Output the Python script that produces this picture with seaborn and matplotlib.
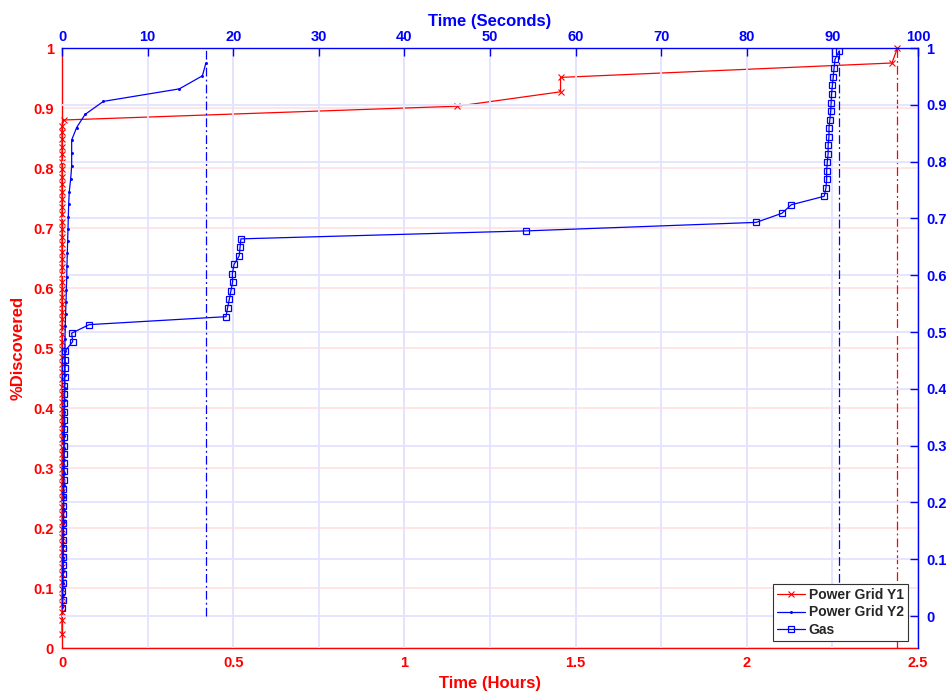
import matplotlib
matplotlib.use("Agg")
import numpy as np
import matplotlib.pyplot as plt
from matplotlib.ticker import FuncFormatter
import seaborn as sns

# Power Grid Y1: hours vs fraction discovered (bottom / left axes)
y1_hours = [0.0, 0.0, 0.0, 0.0, 0.0, 0.0, 0.0, 0.0, 0.0, 0.0,
            0.0, 0.0, 0.0, 0.0, 0.0, 0.0, 0.0, 0.0, 0.0, 0.0,
            0.0, 0.0, 0.0, 0.0, 0.0, 0.0, 0.0, 0.0, 0.0, 0.0,
            0.0, 0.0, 0.0, 0.0, 0.0, 0.0, 0.0, 0.0, 0.0, 0.0,
            0.0, 0.0, 0.0, 0.0, 0.0, 0.0, 0.0, 0.0, 0.0, 0.0,
            0.0, 0.0, 0.0, 0.0, 0.0, 0.0, 0.0, 0.0, 0.0, 0.0,
            0.0, 0.0, 0.0, 0.0, 0.0, 0.0, 0.0, 0.0,
            0.005, 1.154, 1.456, 1.456, 2.424, 2.44]
y1_frac = [0.023, 0.047, 0.060, 0.073, 0.085, 0.098, 0.110, 0.123, 0.135, 0.148,
           0.160, 0.173, 0.185, 0.198, 0.210, 0.223, 0.235, 0.248, 0.260, 0.273,
           0.285, 0.298, 0.310, 0.323, 0.335, 0.348, 0.360, 0.373, 0.385, 0.398,
           0.410, 0.423, 0.435, 0.448, 0.460, 0.473, 0.485, 0.498, 0.510, 0.523,
           0.535, 0.548, 0.560, 0.573, 0.585, 0.598, 0.610, 0.623, 0.635, 0.648,
           0.660, 0.673, 0.685, 0.698, 0.710, 0.723, 0.735, 0.748, 0.760, 0.773,
           0.785, 0.798, 0.810, 0.823, 0.835, 0.848, 0.860, 0.870,
           0.880, 0.903, 0.927, 0.951, 0.975, 1.0]

# Power Grid Y2: seconds vs fraction discovered (top / right axes)
y2_sec = [0.05, 0.08, 0.10, 0.12, 0.14, 0.15, 0.17, 0.18, 0.20, 0.21,
          0.22, 0.24, 0.25, 0.26, 0.27, 0.28, 0.29, 0.30, 0.31, 0.32,
          0.33, 0.34, 0.35, 0.38, 0.42, 0.47, 0.51, 0.55, 0.58, 0.62,
          0.66, 0.70, 0.74, 0.78, 0.85, 1.01, 1.13, 1.13, 1.13, 1.71,
          2.69, 4.83, 13.7, 16.4, 16.8]
y2_frac = [0.016, 0.037, 0.059, 0.080, 0.102, 0.123, 0.145, 0.166, 0.188, 0.209,
           0.231, 0.252, 0.274, 0.295, 0.317, 0.338, 0.360, 0.381, 0.402, 0.424,
           0.445, 0.467, 0.488, 0.510, 0.531, 0.553, 0.574, 0.596, 0.617, 0.639,
           0.660, 0.682, 0.703, 0.725, 0.747, 0.769, 0.792, 0.815, 0.838, 0.860,
           0.883, 0.906, 0.928, 0.951, 0.973]

# Gas: seconds vs fraction discovered (top / right axes)
gas_sec = [0.05, 0.08, 0.05, 0.10, 0.08, 0.12, 0.09, 0.13, 0.12, 0.14,
           0.15, 0.14, 0.16, 0.17, 0.16, 0.18, 0.19, 0.18, 0.20, 0.21,
           0.20, 0.22, 0.23, 0.24, 0.25, 0.27, 0.28, 0.30, 0.32, 0.35,
           0.38, 1.25, 1.13, 3.19,
           19.16, 19.35, 19.55, 19.74, 19.93, 19.90, 20.10, 20.70, 20.80, 20.90,
           54.2, 81.1, 84.1, 85.2, 89.05,
           89.25, 89.33, 89.33, 89.4, 89.5, 89.5, 89.6, 89.6, 89.7, 89.8,
           89.85, 89.9, 90.0, 90.1, 90.2, 90.3, 90.8]
gas_frac = [0.014, 0.029, 0.044, 0.059, 0.074, 0.089, 0.104, 0.119, 0.134, 0.149,
            0.164, 0.179, 0.194, 0.209, 0.224, 0.240, 0.255, 0.270, 0.285, 0.300,
            0.315, 0.330, 0.345, 0.360, 0.375, 0.390, 0.405, 0.420, 0.436, 0.451,
            0.467, 0.483, 0.498, 0.513,
            0.527, 0.543, 0.558, 0.573, 0.588, 0.603, 0.619, 0.634, 0.649, 0.664,
            0.678, 0.693, 0.709, 0.724, 0.739,
            0.754, 0.769, 0.784, 0.799, 0.814, 0.829, 0.844, 0.859, 0.874, 0.889,
            0.904, 0.919, 0.934, 0.949, 0.965, 0.980, 0.995]

hour_ticks = [0, 0.5, 1, 1.5, 2, 2.5]
sec_ticks = [0, 10, 20, 30, 40, 50, 60, 70, 80, 90, 100]
frac_ticks = [0, 0.1, 0.2, 0.3, 0.4, 0.5, 0.6, 0.7, 0.8, 0.9, 1]

RED = "#ff0000"
BLUE = "#0000ff"

sns.set_style("white")
plt.rcParams["font.family"] = ["Liberation Sans", "DejaVu Sans"]
plt.rcParams["font.weight"] = "bold"

fig = plt.figure(figsize=(9.46, 6.96), dpi=100)
pos = [62 / 946, 48 / 696, 856 / 946, 600 / 696]
ax = fig.add_axes(pos)
ax2 = fig.add_axes(pos, facecolor="none")

dashdot = (0, (7, 2.5, 1.5, 2.5))

# bottom/left axes: hours
sns.lineplot(x=y1_hours, y=y1_frac, ax=ax, color=RED, lw=0.9, marker="x",
             markersize=4, markeredgecolor=RED, markeredgewidth=0.8,
             sort=False, estimator=None, label="Power Grid Y1", clip_on=False,
             zorder=3)
ax.plot([y1_hours[-1], y1_hours[-1]], [0, 1], color=RED, lw=0.9, ls=dashdot)

ax.set_xlim(0, 2.5)
ax.set_ylim(0, 1)
ax.set_xticks(hour_ticks)
ax.set_yticks(frac_ticks)
ax.grid(True, color="#ffe3e3", lw=1.3)
ax.set_axisbelow(True)
for s in ["top", "right"]:
    ax.spines[s].set_visible(False)
for s in ["left", "bottom"]:
    ax.spines[s].set_color(RED)
    ax.spines[s].set_linewidth(1.0)
    ax.spines[s].set_zorder(1)
ax.tick_params(axis="both", direction="in", length=6, width=1, color=RED,
               labelcolor=RED, labelsize=10.5, pad=6)
fmt = FuncFormatter(lambda v, p: f"{v:g}")
ax.xaxis.set_major_formatter(fmt)
ax.yaxis.set_major_formatter(fmt)
ax.set_xlabel("Time (Hours)", color=RED, fontsize=12, fontweight="bold", labelpad=4)
ax.set_ylabel("%Discovered", color=RED, fontsize=12, fontweight="bold", labelpad=5)

# top/right axes: seconds
sns.lineplot(x=y2_sec, y=y2_frac, ax=ax2, color=BLUE, lw=0.9, marker=".",
             markersize=3, markeredgecolor=BLUE, markeredgewidth=0.6,
             sort=False, estimator=None, label="Power Grid Y2")
sns.lineplot(x=gas_sec, y=gas_frac, ax=ax2, color=BLUE, lw=0.9, marker="s",
             markersize=5, markerfacecolor="none", markeredgecolor=BLUE,
             markeredgewidth=0.9, sort=False, estimator=None, label="Gas")
ax2.plot([y2_sec[-1], y2_sec[-1]], [0, 1], color=BLUE, lw=0.9, ls=dashdot)
ax2.plot([gas_sec[-1], gas_sec[-1]], [0, 1], color=BLUE, lw=0.9, ls=dashdot)

ax2.set_xlim(0, 100)
ax2.set_ylim(-0.0563, 1)
ax2.set_xticks(sec_ticks)
ax2.set_yticks(frac_ticks)
ax2.grid(True, color="#e3e3ff", lw=1.3, zorder=0)
ax2.set_axisbelow(True)
# the grid line at x=0 would sit on top of the Y1 column
ax2.xaxis.get_gridlines()[0].set_visible(False)
ax2.xaxis.tick_top()
ax2.xaxis.set_label_position("top")
ax2.yaxis.tick_right()
for s in ["left", "bottom"]:
    ax2.spines[s].set_visible(False)
for s in ["top", "right"]:
    ax2.spines[s].set_visible(True)
    ax2.spines[s].set_color(BLUE)
    ax2.spines[s].set_linewidth(1.0)
ax2.tick_params(axis="both", direction="in", length=6, width=1, color=BLUE,
                labelcolor=BLUE, labelsize=10.5, pad=6)
ax2.tick_params(axis="x", pad=3)
ax2.xaxis.set_major_formatter(fmt)
ax2.yaxis.set_major_formatter(fmt)
ax2.set_xlabel("Time (Seconds)", color=BLUE, fontsize=12, fontweight="bold", labelpad=3)
ax2.set_ylabel("")

# one legend for all series
h1, l1 = ax.get_legend_handles_labels()
h2, l2 = ax2.get_legend_handles_labels()
ax.get_legend().remove()
ax2.get_legend().remove()
leg = ax2.legend(h1 + h2, l1 + l2, loc="lower right",
                 bbox_to_anchor=(908 / 946, 55 / 696), bbox_transform=fig.transFigure,
                 borderaxespad=0, fancybox=False, framealpha=1, edgecolor="#333333",
                 prop={"size": 10, "weight": "bold"}, handlelength=2.0,
                 labelspacing=0.25, borderpad=0.3, handletextpad=0.3)
leg.get_frame().set_linewidth(0.8)

fig.savefig("out.png", dpi=100)
